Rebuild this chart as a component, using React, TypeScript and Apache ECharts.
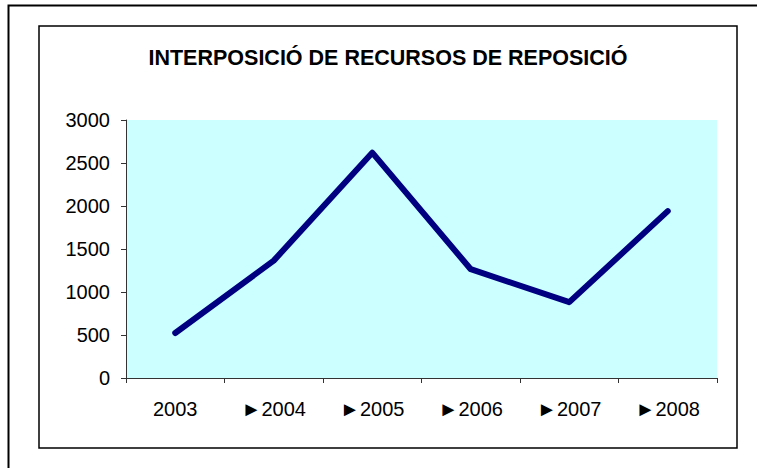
import React, { useEffect, useRef } from "react";
import * as echarts from "echarts";

const categories = ["2003", "►2004", "►2005", "►2006", "►2007", "►2008"];
const values = [523, 1365, 2620, 1265, 882, 1940];
const yTicks = [0, 500, 1000, 1500, 2000, 2500, 3000];
const title = "INTERPOSICIÓ DE RECURSOS DE REPOSICIÓ";

export default function App() {
  const ref = useRef<HTMLDivElement>(null);
  useEffect(() => {
    const chart = echarts.init(ref.current!, null, { renderer: "svg" });
    const font = "'Liberation Sans', Arial, sans-serif";
    chart.setOption({
      animation: false,
      backgroundColor: "#ffffff",
      title: {
        text: title,
        left: 383,
        textAlign: "center",
        top: 42,
        textStyle: { fontFamily: font, fontSize: 21.5, fontWeight: "bold", color: "#000" },
      },
      graphic: [
        {
          type: "rect",
          shape: { x: 8.5, y: 5.5, width: 760, height: 470 },
          style: { fill: "none", stroke: "#000", lineWidth: 2 },
          silent: true,
        },
        {
          type: "rect",
          shape: { x: 39, y: 26, width: 698, height: 422 },
          style: { fill: "none", stroke: "#000", lineWidth: 1.5 },
          silent: true,
        },
        {
          type: "rect",
          shape: { x: 126, y: 120, width: 591, height: 258 },
          style: { fill: "#CCFFFF" },
          silent: true,
          z: -1,
        },
      ],
      grid: { left: 126, top: 120, width: 591, height: 258, containLabel: false },
      xAxis: {
        type: "category",
        data: categories,
        boundaryGap: true,
        axisLine: { lineStyle: { color: "#333", width: 1 } },
        axisTick: { show: true, interval: 0, length: 5, inside: false, lineStyle: { color: "#333" } },
        axisLabel: { interval: 0, margin: 21, fontFamily: font, fontSize: 20, color: "#000" },
        splitLine: { show: false },
      },
      yAxis: {
        type: "value",
        min: yTicks[0],
        max: yTicks[yTicks.length - 1],
        interval: 500,
        axisLine: { show: true, lineStyle: { color: "#333", width: 1 } },
        axisTick: { show: true, length: 5, lineStyle: { color: "#333" } },
        axisLabel: {
          margin: 16,
          fontFamily: font,
          fontSize: 20,
          color: "#000",
          formatter: (v: number) => String(v),
        },
        splitLine: { show: false },
      },
      series: [
        {
          type: "line",
          data: values,
          symbol: "none",
          lineStyle: { color: "#000080", width: 6, cap: "round", join: "round" },
          z: 3,
        },
      ],
    });
    return () => chart.dispose();
  }, []);
  return (
    <div
      ref={ref}
      style={{ position: "fixed", left: 0, top: 0, width: 757, height: 468 }}
    />
  );
}
